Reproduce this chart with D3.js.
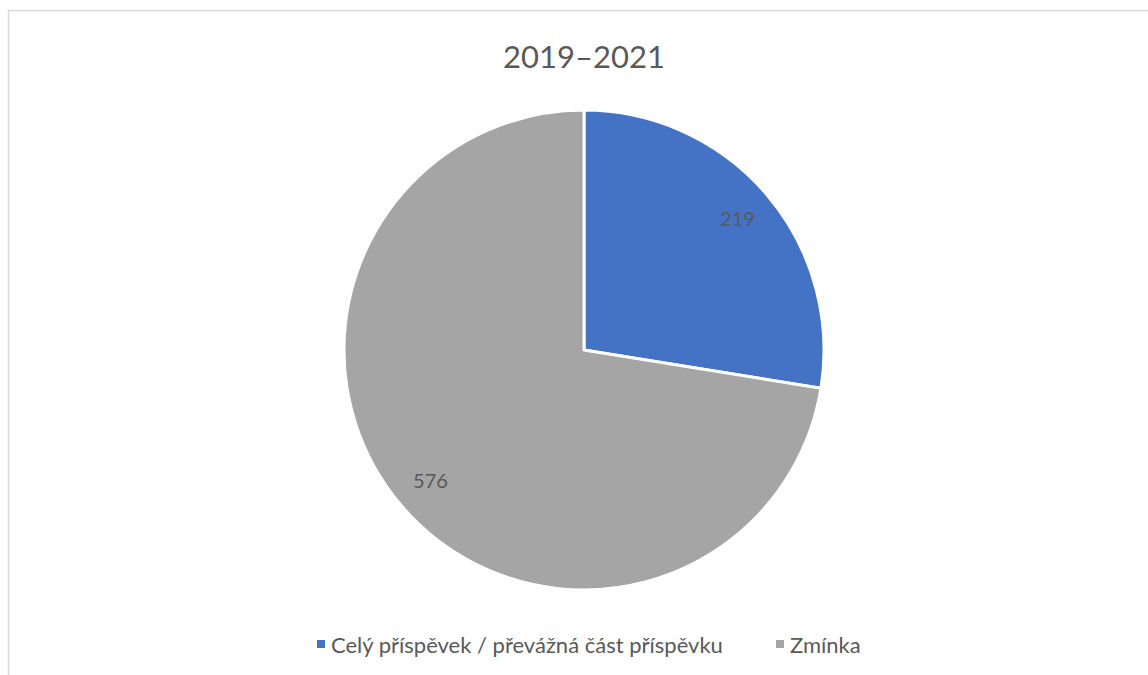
<!DOCTYPE html>
<html>
<head>
<meta charset="utf-8">
<script src="https://cdn.jsdelivr.net/npm/d3@7"></script>
<style>
  body { margin: 0; background: #fff; }
  text { font-family: Lato, "Open Sans", sans-serif; fill: #595959; }
</style>
</head>
<body>
<div id="chart"></div>
<script>
// data
const title = "2019–2021";
const categories = ["Celý příspěvek / převážná část příspěvku", "Zmínka"];
const values = [219, 576];
const colors = ["#4472C4", "#A5A5A5"];

const width = 1148, height = 675;
const cx = 584, cy = 350, radius = 240;

const svg = d3.select("#chart")
  .append("svg")
    .attr("width", width)
    .attr("height", height);

// chart area border (runs off the right and bottom)
svg.append("rect")
  .attr("x", 8.5)
  .attr("y", 10.5)
  .attr("width", 1200)
  .attr("height", 700)
  .attr("fill", "none")
  .attr("stroke", "#d9d9d9")
  .attr("stroke-width", 1.5);

svg.append("text")
  .attr("x", cx)
  .attr("y", 68)
  .attr("text-anchor", "middle")
  .style("font-size", "31px")
  .text(title);

const data = categories.map((c, i) => ({name: c, value: values[i]}));

const pie = d3.pie()
  .sort(null)
  .value(d => d.value);

const arc = d3.arc()
  .innerRadius(0)
  .outerRadius(radius);

const labelArc = d3.arc()
  .innerRadius(radius * 0.84)
  .outerRadius(radius * 0.84);

const color = d3.scaleOrdinal()
  .domain(categories)
  .range(colors);

const g = svg.append("g")
  .attr("transform", "translate(" + cx + "," + cy + ")");

const slices = pie(data);

g.selectAll("path")
  .data(slices)
  .enter().append("path")
    .attr("d", arc)
    .attr("fill", d => color(d.data.name))
    .attr("stroke", "#fff")
    .attr("stroke-width", 3)
    .attr("stroke-linejoin", "round");

g.selectAll("text.label")
  .data(slices)
  .enter().append("text")
    .attr("class", "label")
    .attr("transform", d => "translate(" + labelArc.centroid(d) + ")")
    .attr("text-anchor", "middle")
    .attr("dy", "0.35em")
    .style("font-size", "20px")
    .text(d => d.data.value);

// legend
const legend = svg.append("g")
  .attr("class", "legend");

const legendX = [317, 776];
const legendY = 645;

categories.forEach((c, i) => {
  legend.append("rect")
    .attr("x", legendX[i])
    .attr("y", legendY - 5)
    .attr("width", 8)
    .attr("height", 8)
    .attr("fill", color(c));
  legend.append("text")
    .attr("x", legendX[i] + 14)
    .attr("y", legendY)
    .attr("dy", "0.35em")
    .style("font-size", "22px")
    .text(c);
});
</script>
</body>
</html>
